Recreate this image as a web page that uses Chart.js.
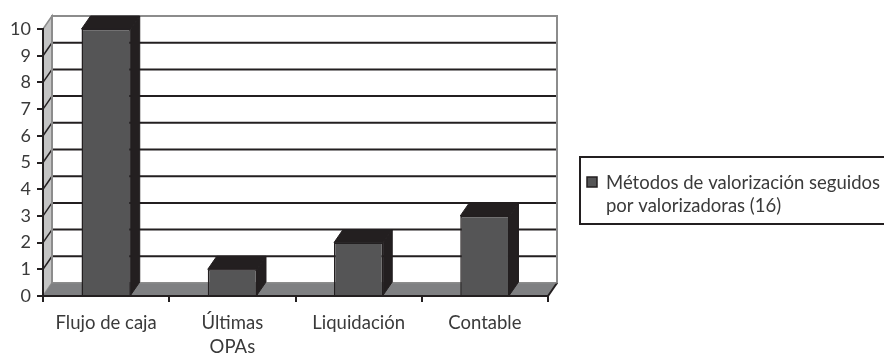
<!DOCTYPE html>
<html>
<head>
<meta charset="utf-8">
<script src="https://cdn.jsdelivr.net/npm/chart.js"></script>
<style>
  html, body { margin: 0; padding: 0; background: #fff; }
  #wrap { width: 884px; height: 360px; position: relative; }
</style>
</head>
<body>
<div id="wrap"><canvas id="chart"></canvas></div>
<script>
// data
const categories = ['Flujo de caja', ['Últimas', 'OPAs'], 'Liquidación', 'Contable'];
const values = [10, 1, 2, 3];
const seriesLabel = ['Métodos de valorización seguidos', 'por valorizadoras (16)'];
const yMin = 0;
const yMax = 10;
const yStep = 1;

const FONT = 'Lato, "Open Sans", sans-serif';
const TEXT = '#3a3a3a';
const INK = '#231f20';
const DX = 9, DY = -13; // depth offset of the 3D box

function poly(ctx, pts, fill, stroke, lw) {
  ctx.beginPath();
  pts.forEach((p, i) => i ? ctx.lineTo(p[0], p[1]) : ctx.moveTo(p[0], p[1]));
  ctx.closePath();
  if (fill) { ctx.fillStyle = fill; ctx.fill(); }
  if (stroke) { ctx.strokeStyle = stroke; ctx.lineWidth = lw || 1; ctx.stroke(); }
}

function line(ctx, x1, y1, x2, y2, color, lw) {
  ctx.beginPath();
  ctx.moveTo(x1, y1);
  ctx.lineTo(x2, y2);
  ctx.strokeStyle = color;
  ctx.lineWidth = lw;
  ctx.stroke();
}

const box3d = {
  id: 'box3d',
  beforeDraw(chart) {
    const { ctx, chartArea: a, scales: { y } } = chart;
    ctx.save();
    // back wall
    ctx.fillStyle = '#fff';
    ctx.fillRect(a.left + DX, a.top + DY, a.width, a.height);
    // left wall
    poly(ctx, [[a.left, a.top], [a.left + DX, a.top + DY], [a.left + DX, a.bottom + DY], [a.left, a.bottom]], '#c4c4c4', '#8c8c8c', 1.5);
    // gridlines on back wall + diagonals on side wall
    y.ticks.forEach(t => {
      if (t.value <= yMin || t.value >= yMax) return;
      const py = y.getPixelForValue(t.value);
      line(ctx, a.left + DX, py + DY, a.right + DX, py + DY, INK, 2);
      line(ctx, a.left, py, a.left + DX, py + DY, INK, 1.5);
    });
    // back wall border
    ctx.strokeStyle = '#8c8c8c';
    ctx.lineWidth = 2;
    ctx.strokeRect(a.left + DX, a.top + DY, a.width, a.height);
    // floor
    poly(ctx, [[a.left, a.bottom], [a.left + DX, a.bottom + DY], [a.right + DX, a.bottom + DY], [a.right, a.bottom]], '#7f8082', null);
    line(ctx, a.right, a.bottom, a.right + DX, a.bottom + DY, INK, 2);
    line(ctx, a.left + DX, a.bottom + DY, a.right + DX, a.bottom + DY, '#8c8c8c', 1);
    ctx.restore();
  },
  afterDatasetsDraw(chart) {
    const { ctx } = chart;
    ctx.save();
    chart.getDatasetMeta(0).data.forEach(bar => {
      const { x, y, width, base } = bar.getProps(['x', 'y', 'width', 'base'], true);
      const x0 = x - width / 2, x1 = x + width / 2;
      poly(ctx, [[x0, y], [x0 + DX, y + DY], [x1 + DX, y + DY], [x1, y]], INK, INK, 1);
      poly(ctx, [[x1, y], [x1 + DX, y + DY], [x1 + DX, base + DY], [x1, base]], INK, INK, 1);
    });
    ctx.restore();
  },
  afterDraw(chart) {
    const { ctx } = chart;
    ctx.save();
    // legend box
    ctx.strokeStyle = INK;
    ctx.lineWidth = 2;
    ctx.strokeRect(580, 157, 320, 67);
    ctx.fillStyle = '#555556';
    ctx.fillRect(587, 177, 10, 10);
    ctx.strokeStyle = INK;
    ctx.lineWidth = 1.5;
    ctx.strokeRect(587, 177, 10, 10);
    ctx.fillStyle = TEXT;
    ctx.font = '18.5px ' + FONT;
    ctx.textBaseline = 'middle';
    ctx.textAlign = 'left';
    seriesLabel.forEach((s, i) => ctx.fillText(s, 606, 183 + i * 23));
    ctx.restore();
  }
};

new Chart(document.getElementById('chart'), {
  type: 'bar',
  data: {
    labels: categories,
    datasets: [{
      label: seriesLabel.join(' '),
      data: values,
      backgroundColor: '#555556',
      borderColor: INK,
      borderWidth: 1.5,
      categoryPercentage: 1,
      barPercentage: 0.39
    }]
  },
  options: {
    responsive: true,
    maintainAspectRatio: false,
    animation: false,
    layout: { padding: { left: 0, right: 336, top: 29, bottom: 0 } },
    plugins: {
      legend: { display: false },
      tooltip: { enabled: false }
    },
    scales: {
      y: {
        min: yMin,
        max: yMax,
        ticks: { stepSize: yStep, color: TEXT, font: { family: FONT, size: 18 }, padding: 6 },
        grid: { drawOnChartArea: false, drawTicks: true, tickLength: 6, color: INK, lineWidth: 2 },
        border: { display: true, color: INK, width: 2 },
        afterFit(scale) { scale.width = 43; }
      },
      x: {
        ticks: { color: TEXT, font: { family: FONT, size: 18.5, lineHeight: 1.3 }, padding: 9, maxRotation: 0 },
        grid: { drawOnChartArea: false, drawTicks: true, tickLength: 6, color: INK, lineWidth: 2 },
        border: { display: true, color: INK, width: 2 },
        afterFit(scale) { scale.height = 64; }
      }
    }
  },
  plugins: [box3d]
});
</script>
</body>
</html>
